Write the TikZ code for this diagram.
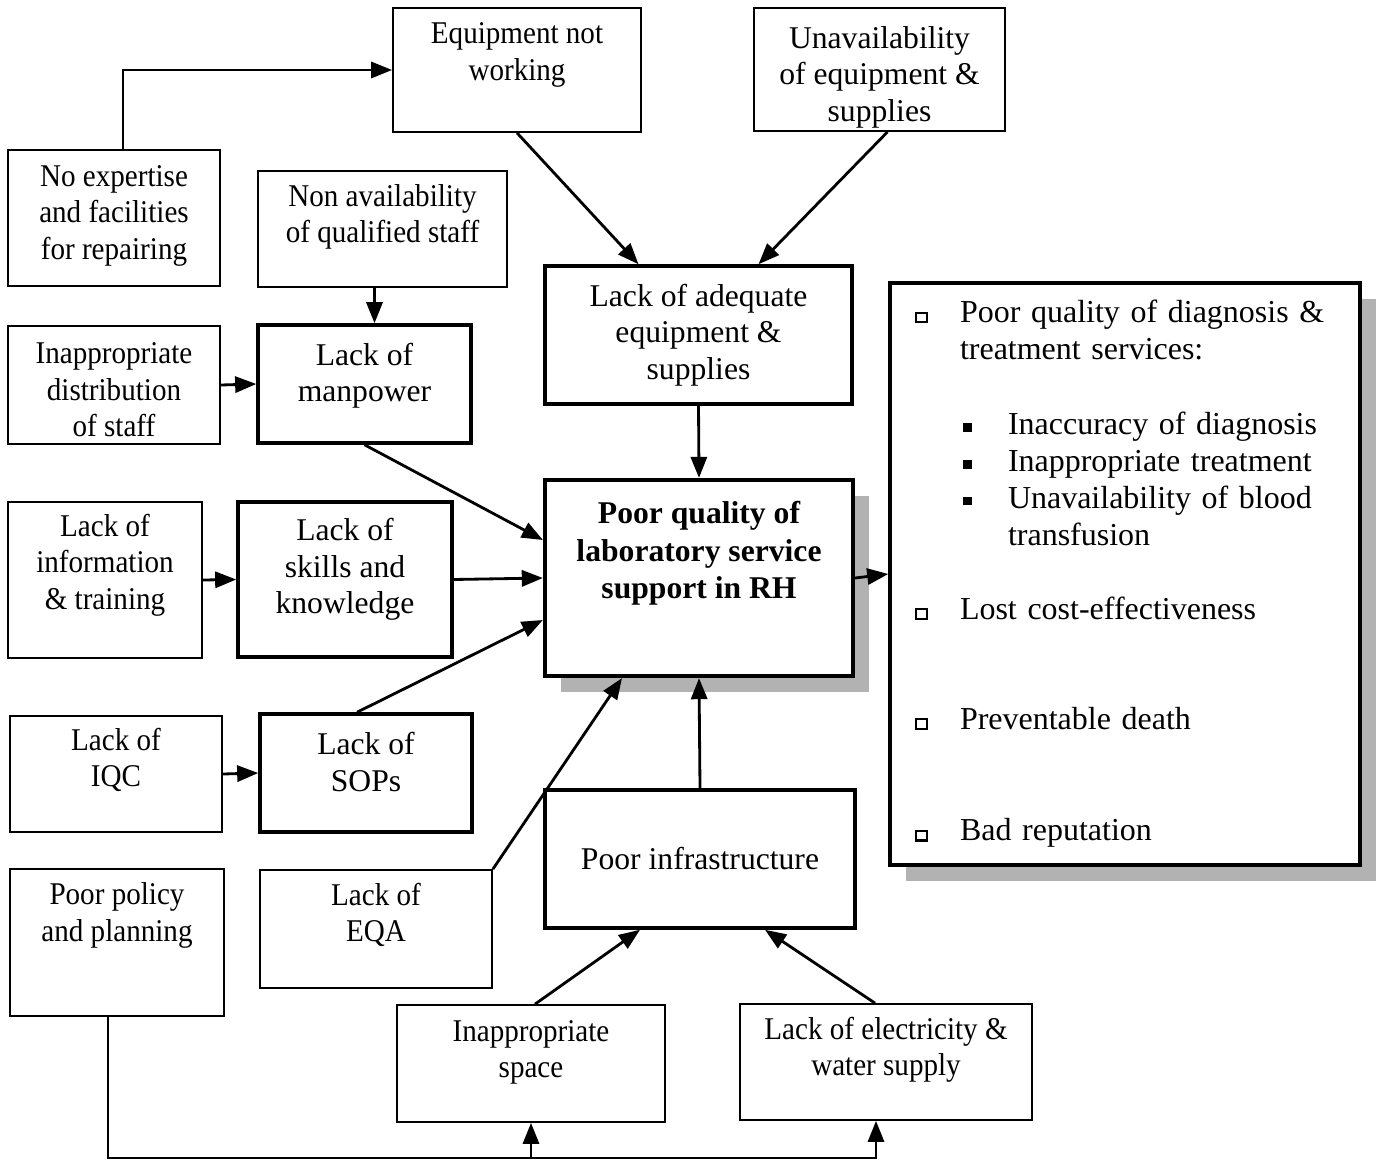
\documentclass[tikz,border=0pt]{standalone}
\usepackage{fontspec}
\setmainfont{Liberation Serif}
\newfontfamily\narrowserif{Liberation Serif}[FakeStretch=0.92]
\usetikzlibrary{arrows.meta}
\usetikzlibrary{shadows}

\newcommand{\osq}{\makebox[0.45cm][l]{\raisebox{0.1ex}{\fboxsep=0pt\fboxrule=0.6pt\fbox{\rule{0pt}{2.1pt}\rule{2.5pt}{0pt}}}}}
\newcommand{\fsq}{\hspace*{0.48cm}\makebox[0.45cm][l]{\raisebox{0.2ex}{\rule{2.5pt}{2.5pt}}}}

\begin{document}
\begin{tikzpicture}[
    box/.style={draw, fill=white, line width=0.5pt, align=center, inner sep=2pt,
        font=\fontsize{9}{10.4}\selectfont},
    narrow/.style={font=\narrowserif\fontsize{9}{10.4}\selectfont},
    bold box/.style={box, line width=1pt},
    lift/.style={text depth=#1},
    shade/.style={drop shadow={shadow xshift=0.16cm, shadow yshift=-0.16cm, fill=gray!60, opacity=1}},
    arrow/.style={line width=0.8pt, -{Triangle[length=6pt,width=4.6pt]}}]
\useasboundingbox (0,0) rectangle (13.81,-11.61);

% boxes
\node[box, narrow, minimum width=2.48cm, minimum height=1.24cm, lift=10.5pt] (eqp) at (5.17,-0.70) {Equipment not\\working};
\node[box, minimum width=2.51cm, minimum height=1.23cm, inner ysep=0pt, text height=31.5pt] (unav) at (8.795,-0.695) {Unavailability\\of equipment \&\\supplies};
\node[box, narrow, minimum width=2.12cm, minimum height=1.36cm, lift=3.2pt] (noexp) at (1.14,-2.18) {No expertise\\and facilities\\for repairing};
\node[box, narrow, minimum width=2.49cm, minimum height=1.16cm, lift=8.8pt] (nonav) at (3.825,-2.29) {Non availability\\of qualified staff};
\node[bold box, minimum width=3.07cm, minimum height=1.38cm] (lackeq) at (6.985,-3.35) {Lack of adequate\\equipment \&\\supplies};
\node[box, narrow, minimum width=2.12cm, minimum height=1.18cm, inner ysep=0pt, text height=29.5pt] (inapdist) at (1.14,-3.85) {Inappropriate\\distribution\\of staff};
\node[bold box, minimum width=2.13cm, minimum height=1.18cm, lift=6.5pt] (manpow) at (3.645,-3.84) {Lack of\\manpower};
\node[box, narrow, minimum width=1.94cm, minimum height=1.56cm, lift=10.5pt] (info) at (1.05,-5.80) {Lack of\\information\\\& training};
\node[bold box, minimum width=2.14cm, minimum height=1.55cm, lift=7.7pt] (skills) at (3.45,-5.795) {Lack of\\skills and\\knowledge};
\node[bold box, line width=1.2pt, shade, minimum width=3.08cm, minimum height=1.96cm, lift=16pt,
    font=\bfseries\fontsize{9}{10.8}\selectfont] (core) at (6.99,-5.78) {Poor quality of\\laboratory service\\support in RH};
\node[box, narrow, minimum width=2.12cm, minimum height=1.16cm, lift=9.4pt] (iqc) at (1.16,-7.74) {Lack of\\IQC};
\node[bold box, minimum width=2.12cm, minimum height=1.18cm, lift=6.5pt] (sops) at (3.66,-7.73) {Lack of\\SOPs};
\node[box, narrow, minimum width=2.14cm, minimum height=1.47cm, lift=17.4pt] (policy) at (1.17,-9.425) {Poor policy\\and planning};
\node[box, narrow, minimum width=2.32cm, minimum height=1.18cm, lift=9.4pt] (eqa) at (3.76,-9.29) {Lack of\\EQA};
\node[bold box, minimum width=3.10cm, minimum height=1.38cm] (infra) at (7.00,-8.59) {Poor infrastructure};
\node[box, narrow, minimum width=2.68cm, minimum height=1.17cm, lift=8.3pt] (space) at (5.31,-10.635) {Inappropriate\\space};
\node[box, narrow, minimum width=2.92cm, minimum height=1.16cm, lift=8.8pt] (elec) at (8.86,-10.62) {Lack of electricity \&\\water supply};

% consequences
\node[box, line width=1pt, shade, align=left, inner xsep=0.25cm, inner ysep=2pt, text width=4.2cm,
    minimum height=5.82cm, font=\fontsize{9.1}{10.5}\selectfont] (effects) at (11.25,-5.74) {%
\osq Poor quality of diagnosis \&\\
\hspace*{0.45cm}treatment services:\\[10.8pt]
\fsq Inaccuracy of diagnosis\\
\fsq Inappropriate treatment\\
\fsq Unavailability of blood\\
\hspace*{0.93cm}transfusion\\[10.5pt]
\osq Lost cost-effectiveness\\[20.8pt]
\osq Preventable death\\[21.3pt]
\osq Bad reputation};

% arrows
\draw[arrow] ([xshift=0.09cm]noexp.north) |- (eqp.west);
\draw[arrow] (eqp.south) -- ([xshift=-0.6cm]lackeq.north);
\draw[arrow] ([xshift=0.08cm]unav.south) -- ([xshift=0.6cm]lackeq.north);
\draw[arrow] ([xshift=-0.08cm]nonav.south) -- ([xshift=0.1cm]manpow.north);
\draw[arrow] (inapdist.east) -- (manpow.west);
\draw[arrow] (manpow.south) -- ([yshift=0.38cm]core.west);
\draw[arrow] (info.east) -- (skills.west);
\draw[arrow] (skills.east) -- (core.west);
\draw[arrow] (iqc.east) -- (sops.west);
\draw[arrow] ([xshift=-0.09cm]sops.north) -- ([yshift=-0.42cm]core.west);
\draw[arrow] (eqa.north east) -- ([xshift=-0.77cm]core.south);
\draw[arrow] (infra.north) -- (core.south);
\draw[arrow] (lackeq.south) -- (core.north);
\draw[arrow] (core.east) -- (effects.west);
\draw[arrow] ([xshift=0.04cm]space.north) -- ([xshift=-0.6cm]infra.south);
\draw[arrow] ([xshift=-0.11cm]elec.north) -- ([xshift=0.65cm]infra.south);

% policy line along the bottom
\coordinate (bus) at (5.31,-11.58);
\draw[arrow] ([xshift=-0.09cm]policy.south) |- ([xshift=-0.1cm]elec.south |- bus) -- ([xshift=-0.1cm]elec.south);
\draw[arrow] (bus) -- (space.south);
\end{tikzpicture}
\end{document}
